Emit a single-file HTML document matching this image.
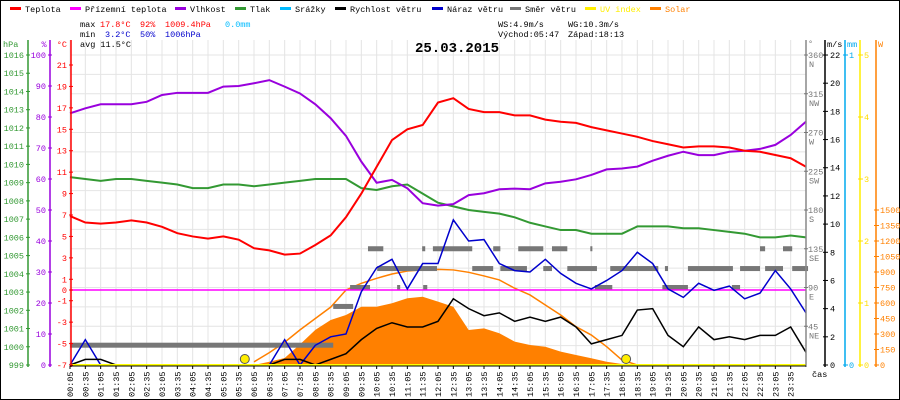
<!DOCTYPE html>
<html><head><meta charset="utf-8"><style>
html,body{margin:0;padding:0;background:#fff;}
svg{display:block;font-family:"Liberation Mono",monospace;}
</style></head><body>
<svg id="chart" width="900" height="400" viewBox="0 0 900 400" xmlns="http://www.w3.org/2000/svg">
<rect x="0.5" y="0.5" width="899" height="399" fill="#fff" stroke="#000"/>
<g id="grid"></g>
<g id="series"></g>
<g id="axes"></g>
<g id="legend" font-size="8.5"></g>
<g font-size="8.5">
<text x="80" y="27">max</text>
<text x="100" y="27" fill="#ff0000">17.8°C</text>
<text x="140" y="27" fill="#ff0000">92%</text>
<text x="165" y="27" fill="#ff0000">1009.4hPa</text>
<text x="225" y="27" fill="#00bbff">0.0mm</text>
<text x="80" y="37">min</text>
<text x="105" y="37" fill="#0000cc">3.2°C</text>
<text x="140" y="37" fill="#0000cc">50%</text>
<text x="165" y="37" fill="#0000cc">1006hPa</text>
<text x="80" y="47">avg 11.5°C</text>
<text x="498" y="27">WS:4.9m/s</text>
<text x="568" y="27">WG:10.3m/s</text>
<text x="498" y="37">Východ:05:47</text>
<text x="568" y="37">Západ:18:13</text>
<text x="415" y="52" font-size="14" font-weight="bold">25.03.2015</text>
</g>
</svg>
<script>
const temperature=[6.9,6.3,6.2,6.3,6.5,6.3,5.9,5.3,5.0,4.8,5.0,4.7,3.9,3.7,3.3,3.4,4.2,5.1,6.8,9.0,11.5,14.0,15.0,15.4,17.5,17.9,16.9,16.6,16.6,16.3,16.3,15.9,15.7,15.6,15.2,14.9,14.6,14.3,13.9,13.6,13.3,13.4,13.4,13.3,13.0,12.9,12.6,12.3,11.5];
const feelsLike=[0,0,0,0,0,0,0,0,0,0,0,0,0,0,0,0,0,0,0,0,0,0,0,0,0,0,0,0,0,0,0,0,0,0,0,0,0,0,0,0,0,0,0,0,0,0,0,0,0];
const humidity=[81.2,82.8,84.1,84.1,84.1,84.9,87.1,87.8,87.8,87.8,89.8,90.0,90.9,91.9,89.8,87.6,84.1,79.6,73.9,65.6,58.8,59.7,57.0,52.2,51.4,51.9,54.8,55.4,56.7,56.9,56.7,58.6,59.1,59.9,61.3,63.1,63.4,64.0,65.9,67.5,68.8,67.7,67.7,68.8,69.1,69.7,71.0,74.2,78.5];
const pressure=[1009.3,1009.2,1009.1,1009.2,1009.2,1009.1,1009.0,1008.9,1008.7,1008.7,1008.9,1008.9,1008.8,1008.9,1009.0,1009.1,1009.2,1009.2,1009.2,1008.7,1008.6,1008.8,1008.9,1008.4,1007.9,1007.7,1007.5,1007.4,1007.3,1007.1,1006.8,1006.6,1006.4,1006.4,1006.2,1006.2,1006.2,1006.6,1006.6,1006.6,1006.5,1006.5,1006.4,1006.3,1006.2,1006.0,1006.0,1006.1,1006.0];
const windSpeed=[0,0.4,0.4,0,0,0,0,0,0,0,0,0,0,0,0.4,0.4,0,0.4,0.8,1.8,2.6,3.0,2.7,2.7,3.1,4.7,4.0,3.5,3.7,3.1,3.4,3.1,3.4,2.7,1.5,1.8,2.1,3.9,4.0,2.1,1.3,2.7,1.8,2.0,1.8,2.1,2.1,2.7,0.9];
const windGust=[0,1.8,0,0,0,0,0,0,0,0,0,0,0,0,1.8,0,1.4,2.0,2.2,5.2,6.9,7.5,5.4,7.2,7.2,10.3,8.8,8.9,7.2,6.7,6.6,7.5,6.5,5.8,5.4,6.0,6.7,8.0,7.2,5.4,4.8,5.8,5.3,5.6,4.7,5.1,6.7,5.4,3.7];
const solarStart=12;
const solar=[0,32,68,200,340,435,484,564,564,597,646,661,613,564,339,355,307,226,194,177,129,97,65,32,10,0];
const solarTheory=[30,120,220,340,450,560,726,791,839,881,910,920,926,920,897,862,823,743,678,581,484,371,290,177,48,0];
const uvIndex=[0,0,0,0,0,0,0,0,0,0,0,0,0,0,0,0,0,0,0,0,0,0,0,0,0,0,0,0,0,0,0,0,0,0,0,0,0,0,0,0,0,0,0,0,0,0,0,0,0];
const dirStart=[5,520,553,606,588,645,696,694,715,792,833,847,882,931,948,978,1023,1032,1062,1164,1169,1214,1300,1316,1355,1365,1400,1418];
const dirEnd=[520,559,592,723,618,651,704,700,792,833,847,899,931,948,978,1036,1027,1066,1156,1214,1175,1302,1316,1355,1365,1400,1418,1449];
const dirDeg=[23,68,90,112,135,90,90,135,135,112,135,112,135,112,135,112,135,90,112,90,112,112,90,112,135,112,135,112];
const timeLabels=[];for(let h=0;h<24;h++){const hh=(h<10?'0':'')+h;timeLabels.push(hh+':05');timeLabels.push(hh+':35');}
const sunEvents=[347,1093];

const NS='http://www.w3.org/2000/svg';
const X=i=>70+i*736/48;
const XT=t=>70+(t-5)*736/1440;
const yT=v=>290-v*10.714, yH=v=>365-v*3.1, yP=v=>365-(v-999)*18.235, yW=v=>365-v*14.09, yS=v=>365-v*0.10333, yD=v=>365-v*310/360, yUV=v=>365-v*62;
function el(tag,attrs,parent){const e=document.createElementNS(NS,tag);for(const k in attrs)e.setAttribute(k,attrs[k]);parent.appendChild(e);return e;}
const grid=document.getElementById('grid'),ser=document.getElementById('series'),axes=document.getElementById('axes'),leg=document.getElementById('legend');
for(let i=0;i<=48;i++){const l=el('line',{x1:X(i),x2:X(i),y1:40,y2:365,stroke:'#e4e4e4'},grid);

}
for(let k=0;k<16;k++){const y=55+k*19.375;const l=el('line',{x1:70,x2:806,y1:y,y2:y,stroke:'#e4e4e4'},grid);

}
// solar fill
let pts=[XT(5+(solarStart)*30)+','+365];
solar.forEach((v,j)=>pts.push(X(solarStart+j)+','+yS(v)));
pts.push(X(solarStart+solar.length-1)+',365');
const sf=el('polygon',{points:pts.join(' '),fill:'#ff8000'},ser);


function line(arr,fy,color,w,name,off){const p=arr.map((v,j)=>X((off||0)+j)+','+fy(v)).join(' ');const l=el('polyline',{points:p,fill:'none',stroke:color,'stroke-width':w},ser);

return l;}
const th=line(solarTheory,yS,'#ff8000',1.5,'solar-theoretical-line',solarStart);
// direction bars
dirDeg.forEach((d,j)=>{const r=el('rect',{x:XT(dirStart[j]),y:yD(d)-2.5,width:Math.max(2,XT(dirEnd[j])-XT(dirStart[j])),height:5,fill:'#777'},ser);

});
line(pressure,yP,'#339933',2,'pressure-line');
line(humidity,yH,'#9900dd',2,'humidity-line');
line(temperature,yT,'#ff0000',2,'temperature-line');
line(feelsLike,yT,'#ff00ff',1.5,'feels-like-line');
line(windGust,yW,'#0000cc',1.5,'wind-gust-line');
line(windSpeed,yW,'#000',1.5,'wind-speed-line');
line(uvIndex,yUV,'#ffff00',2,'uv-index-line');
sunEvents.forEach(t=>{const c=el('circle',{cx:XT(t),cy:359,r:4.5,fill:'#ffee00',stroke:'#555','stroke-width':1},ser);

});
// axes
function vaxis(x,color,name){const l=el('line',{x1:x,x2:x,y1:40,y2:367,stroke:color,'stroke-width':1.5},axes);

}
function label(x,y,txt,color,anchor,name,size){const t=el('text',{x:x,y:y,fill:color,'font-size':size||8.5,'text-anchor':anchor||'start'},axes);t.textContent=txt;

return t;}
function tick(x1,x2,y,color){el('line',{x1:x1,x2:x2,y1:y,y2:y,stroke:color},axes);}
vaxis(28,'#339933','pressure-axis');vaxis(50,'#9900dd','humidity-axis');vaxis(71,'#ff0000','temperature-axis');
label(3,47,'hPa','#339933','start','pressure-axis-title');label(44,47,'%','#9900dd','middle','humidity-axis-title');label(67,47,'°C','#ff0000','end','temperature-axis-title');
for(let v=999;v<=1016;v++){const y=yP(v);tick(26,30,y,'#339933');label(24,y+3,String(v),'#339933','end','pressure-tick-label');}
for(let v=0;v<=100;v+=10){const y=yH(v);tick(48,52,y,'#9900dd');label(46,y+3,String(v),'#9900dd','end','humidity-tick-label');}
[-7,-5,-3,-1,0,1,3,5,7,9,11,13,15,17,19,21].forEach(v=>{const y=yT(v);tick(69,73,y,'#ff0000');label(67,y+3,String(v),'#ff0000','end','temperature-tick-label');});
vaxis(806,'#888','direction-axis');vaxis(825,'#000','wind-axis');vaxis(845,'#00aaee','rain-axis');vaxis(860,'#ffee00','uv-axis');vaxis(876,'#ff8000','solar-axis');
label(808,46,'°','#777','start','direction-axis-title');label(827,47,'m/s','#000','start','wind-axis-title');label(847,47,'mm','#00aaee','start','rain-axis-title');label(878,47,'W','#ff8000','start','solar-axis-title');
[[45,'NE'],[90,'E'],[135,'SE'],[180,'S'],[225,'SW'],[270,'W'],[315,'NW'],[360,'N']].forEach(d=>{const y=yD(d[0]);tick(804,808,y,'#777');label(808,y+3,String(d[0]),'#777','start','direction-tick-label');label(809,y+12,d[1],'#777','start','direction-compass-label');});
for(let v=0;v<=22;v+=2){const y=yW(v);tick(823,828,y,'#000');label(830,y+3,String(v),'#000','start','wind-tick-label');}
[0,1].forEach(v=>{const y=365-v*310;tick(843,848,y,'#00aaee');label(849,y+3,String(v),'#00aaee','start','rain-tick-label');});
for(let v=0;v<=5;v++){const y=yUV(v);tick(858,863,y,'#ffdd00');label(864,y+3,String(v),'#ffdd00','start','uv-tick-label');}
for(let v=0;v<=1500;v+=150){const y=yS(v);tick(874,879,y,'#ff8000');label(880,y+3,String(v),'#ff8000','start','solar-tick-label');}
const xa=el('line',{x1:70,x2:806,y1:366,y2:366,stroke:'#000'},axes);


timeLabels.forEach((s,i)=>{const x=X(i);tick(0,0,0,'#000');el('line',{x1:x,x2:x,y1:366,y2:369,stroke:'#000'},axes);
const t=el('text',{x:0,y:0,'font-size':8.5,transform:'translate('+(x+3)+',397) rotate(-90)'},axes);t.textContent=s;

});
label(812,377,'čas','#000','start','x-axis-title');
// legend
const legItems=[['Teplota','#ff0000',10],['Přízemní teplota','#ff00ff',70],['Vlhkost','#9900dd',175],['Tlak','#339933',235],['Srážky','#00bbff',280],['Rychlost větru','#000',335],['Náraz větru','#0000cc',432],['Směr větru','#777',510],['UV index','#ffee00',585],['Solar','#ff8000',650]];
legItems.forEach(it=>{const g=el('g',{},leg);


el('rect',{x:it[2],y:7,width:11,height:3,fill:it[1]},g);
const t=el('text',{x:it[2]+15,y:12,fill:(it[0]==='UV index'||it[0]==='Solar')?it[1]:'#000'},g);t.textContent=it[0];});
</script>
</body></html>
